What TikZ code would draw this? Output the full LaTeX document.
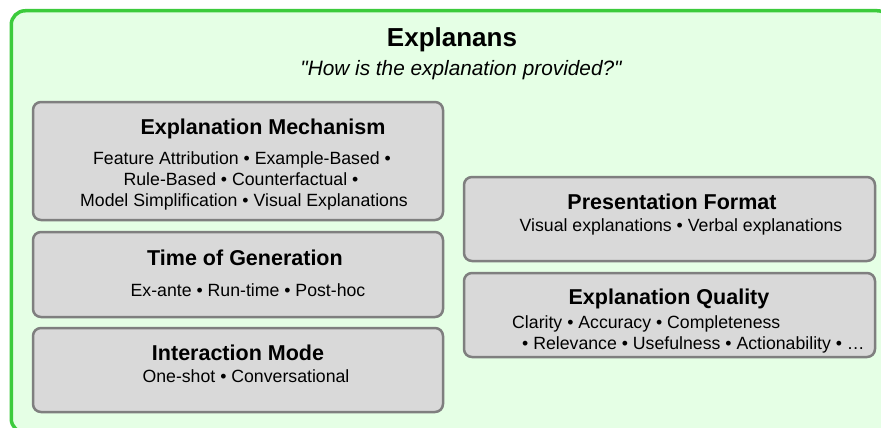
\documentclass[tikz,border=0pt]{standalone}
\usepackage{fontspec}
\setmainfont{Liberation Sans}
\newfontfamily\plainsans{Liberation Sans}
\definecolor{outergreen}{HTML}{3CCB3C}
\definecolor{outerfill}{HTML}{E5FFE5}
\definecolor{boxfill}{HTML}{D9D9D9}
\definecolor{boxline}{HTML}{7F7F7F}
\tikzset{
  outerbox/.style={draw=outergreen, fill=outerfill, line width=3.5pt, rounded corners=14pt},
  catbox/.style={draw=boxline, fill=boxfill, line width=2.5pt, rounded corners=8pt, minimum width=410pt, inner sep=0pt},
  titletext/.style={font=\fontsize{26}{30}\selectfont\bfseries, inner sep=0pt, anchor=base},
  subtext/.style={font=\plainsans\fontsize{20.8}{24}\selectfont\itshape, inner sep=0pt, anchor=base},
  headtext/.style={font=\fontsize{21.5}{25}\selectfont\bfseries, inner sep=0pt, anchor=base},
  bodytext/.style={font=\fontsize{17.7}{21}\selectfont, inner sep=0pt, anchor=base},
}
\begin{document}
\begin{tikzpicture}[x=1pt, y=-1pt]
\useasboundingbox (0,0) rectangle (881,428);
\node[outerbox, minimum width=880pt, minimum height=422pt, anchor=north west] (outer) at (9.5,9) {};
\node[titletext] (title) at (452,46.5) {Explanans};
\node[subtext] (sub) at (461,75) {"How is the explanation provided?"};
% left column
\node[catbox, minimum height=118pt] (mech) at (238,161) {};
\node[headtext] (mechh) at (263,134) {Explanation Mechanism};
\node[bodytext] (mech1) at (242,164) {Feature Attribution • Example-Based •};
\node[bodytext] (mech2) at (241,185.5) {Rule-Based • Counterfactual •};
\node[bodytext] (mech3) at (244,206.5) {Model Simplification • Visual Explanations};
\node[catbox, minimum height=85pt] (time) at (238,274.5) {};
\node[headtext] (timeh) at (245,265) {Time of Generation};
\node[bodytext] (time1) at (248,296) {Ex-ante • Run-time • Post-hoc};
\node[catbox, minimum height=84pt] (inter) at (238,370) {};
\node[headtext] (interh) at (238,360.5) {Interaction Mode};
\node[bodytext] (inter1) at (246,382.5) {One-shot • Conversational};
% right column
\node[catbox, minimum width=411pt, minimum height=84pt] (pres) at (669.5,219) {};
\node[headtext] (presh) at (672,209) {Presentation Format};
\node[bodytext] (pres1) at (681,231.5) {Visual explanations • Verbal explanations};
\node[catbox, minimum width=411pt, minimum height=84pt] (qual) at (669.5,315) {};
\node[headtext] (qualh) at (669,304.3) {Explanation Quality};
\node[bodytext, anchor=base west] (qual1) at (512,328.3) {Clarity • Accuracy • Completeness};
\node[bodytext, anchor=base west] (qual2) at (522,349) {• Relevance • Usefulness • Actionability • …};
\end{tikzpicture}
\end{document}
